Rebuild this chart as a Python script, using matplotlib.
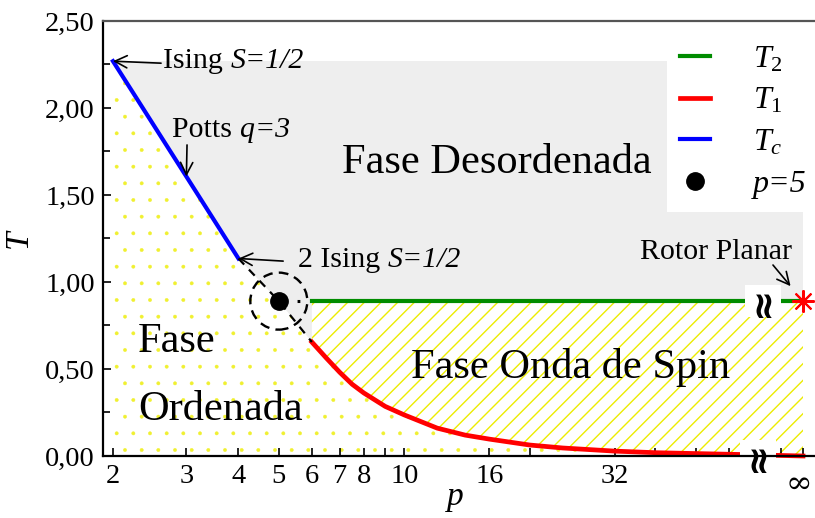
import numpy as np
import matplotlib
matplotlib.use("Agg")
import matplotlib.pyplot as plt
import matplotlib.transforms as mtransforms
from matplotlib.patches import Circle

plt.rcParams["font.family"] = ["Liberation Serif", "DejaVu Serif"]
plt.rcParams["mathtext.fontset"] = "custom"
plt.rcParams["mathtext.rm"] = "Liberation Serif"
plt.rcParams["mathtext.it"] = "Liberation Serif:italic"
plt.rcParams["hatch.linewidth"] = 1.0
plt.rcParams["lines.scale_dashes"] = False

# ---- data (p, T) ----
P_TC = [2, 3, 4]
T_TC = [2.269, 1.606, 1.135]

P_LINK = [4, 5, 6]
T_LINK = [1.135, 0.89, 0.655]

P_T1 = [6, 6.5, 7, 7.5, 8, 9, 10, 12, 14, 16, 20, 24, 32, 40, 50, 60, 66, np.inf]
T_T1 = [0.655, 0.563, 0.481, 0.412, 0.362, 0.285, 0.236, 0.16, 0.12, 0.097,
        0.063, 0.046, 0.028, 0.019, 0.014, 0.010, 0.008, 0.0]

P_T2 = [6, np.inf]
T_T2 = [0.89, 0.89]

P_MULTI, T_MULTI = 5, 0.89
T_ISING = 2.269

X_TICKS = [2, 3, 4, 5, 6, 7, 8, 9, 10, 16, 20, 32, 40, 50, 60, 80, np.inf]
X_LABELS = ["2", "3", "4", "5", "6", "7", "8", "", "10", "16", "", "32",
            "", "", "", "", ""]
INF_LABEL = "\u221e"
Y_TICKS = [0.0, 0.5, 1.0, 1.5, 2.0, 2.5]

# layout constants
P_INF = 90.5         # where "infinity" sits on the log axis
P_BREAK_AXIS = 70.5
P_BREAK_T2 = 72.5
YELLOW = "#ecec00"


def xpos(p):
    p = np.asarray(p, dtype=float)
    return np.where(np.isinf(p), P_INF, p)


fig = plt.figure(figsize=(8.15, 5.18), dpi=100)
ax = fig.add_axes([0.1264, 0.1197, 0.8736, 0.8398])
ax.set_xscale("log")
ax.set_xlim(1.893, 96.7)
ax.set_ylim(0, 2.5)

# disordered phase (grey)
ax.fill_between(xpos([2, np.inf]), 0, T_ISING, color="#eeeeee", lw=0, zorder=0)

# ordered phase (yellow dots)
p_low = np.concatenate([xpos(P_TC), xpos(P_LINK[1:]), xpos(P_T1[1:])])
t_low = np.concatenate([T_TC, T_LINK[1:], T_T1[1:]])
with plt.rc_context({"hatch.linewidth": 0.3}):
    dots = ax.fill_between(p_low, 0, t_low, facecolor="white", edgecolor="#f0f030",
                           hatch=".", lw=0, zorder=1)
if hasattr(dots, "set_hatch_linewidth"):
    dots.set_hatch_linewidth(0.3)

# spin wave phase (yellow hatch)
ax.fill_between(xpos(P_T1), T_T1, T_T2[0], facecolor="white", edgecolor=YELLOW,
                hatch="//", lw=0, zorder=1)

# transition lines
l2, = ax.plot(xpos(P_T2), T_T2, color="#008c00", lw=3, zorder=3, label=r"$T_\mathit{2}$")
l1, = ax.plot(xpos(P_T1), T_T1, color="red", lw=3.4, zorder=3, clip_on=False,
              label=r"$T_\mathit{1}$")
lc, = ax.plot(P_TC, T_TC, color="blue", lw=3, zorder=3, label=r"$T_c$")
ax.plot(P_LINK, T_LINK, color="black", lw=1.6, ls=(0, (6, 5)), zorder=3)
ax.plot([P_MULTI, P_LINK[-1]], [T_MULTI, T_T2[0]], color="black", lw=2.2,
        ls=(0, (0.01, 13, 2, 60)), zorder=3)
lp, = ax.plot(P_MULTI, T_MULTI, "o", color="black", ms=12.5, zorder=4, label="p=5")

# dashed circle around the multicritical point
trans = fig.dpi_scale_trans + mtransforms.ScaledTranslation(P_MULTI, T_MULTI, ax.transData)
ax.add_patch(Circle((0, 0), 0.285, transform=trans, fill=False, color="black",
                    lw=1.7, ls=(0, (7, 4.5)), zorder=4))

# planar rotor limit
ax.plot(xpos([np.inf]), [T_T2[0]], marker=(8, 2, 0), color="red", ms=16, mew=1.5,
        zorder=5, clip_on=False)

# axis breaks
for pb, tb in [(P_BREAK_AXIS, 0.0), (P_BREAK_T2, T_T2[0])]:
    ax.text(pb, tb, "\u2248", family="DejaVu Sans", fontsize=27, fontweight="bold",
            rotation=90, ha="center", va="center", zorder=6, clip_on=False,
            bbox=dict(fc="white", ec="none", pad=0.0))

# annotations
arrow = dict(arrowstyle="->", color="black", lw=1.2, mutation_scale=22, shrinkA=0, shrinkB=0)
ann_fs = 21.5


def label_parts(x, y, plain, italic):
    t = ax.text(x, y, plain, transform=ax.transAxes, fontsize=ann_fs, va="baseline", zorder=6)
    ax.annotate(italic, xy=(1, 0), xycoords=t, fontsize=ann_fs, style="italic",
                va="bottom", zorder=6)


ax.annotate("", xy=(P_TC[0], T_TC[0]), xytext=(0.0815, 0.903),
            textcoords="axes fraction", arrowprops=arrow, zorder=6)
label_parts(0.084, 0.892, "Ising ", "S=1/2")

ax.annotate("", xy=(P_TC[1], T_TC[1]), xytext=(0.118, 0.715),
            textcoords="axes fraction", arrowprops=arrow, zorder=6)
label_parts(0.097, 0.733, "Potts ", "q=3")

ax.annotate("", xy=(P_TC[2], T_TC[2]), xytext=(0.253, 0.448),
            textcoords="axes fraction", arrowprops=arrow, zorder=6)
label_parts(0.274, 0.434, "2 Ising ", "S=1/2")

ax.annotate("", xy=(P_INF, T_T2[0]), xytext=(0.941, 0.439),
            textcoords="axes fraction",
            arrowprops=dict(arrow, shrinkB=14), zorder=6)
ax.text(0.754, 0.453, "Rotor Planar", transform=ax.transAxes, fontsize=ann_fs,
        va="baseline", zorder=6)

# phase labels
phase_fs = 30.5
ax.text(0.553, 0.651, "Fase Desordenada", transform=ax.transAxes, fontsize=phase_fs,
        ha="center", va="baseline", zorder=6)
ax.text(0.657, 0.179, "Fase Onda de Spin", transform=ax.transAxes, fontsize=phase_fs,
        ha="center", va="baseline", zorder=6)
ax.text(0.049, 0.239, "Fase", transform=ax.transAxes, fontsize=phase_fs,
        va="baseline", zorder=6)
ax.text(0.049, 0.083, "Ordenada", transform=ax.transAxes, fontsize=phase_fs,
        va="baseline", zorder=6)

# legend
leg = ax.legend(handles=[l2, l1, lc, lp], loc="upper left", bbox_to_anchor=(0.792, 0.975),
                frameon=True, facecolor="white", edgecolor="none", framealpha=1,
                fancybox=False, prop=dict(size=23, style="italic"),
                handlelength=0.95, handletextpad=1.35, labelspacing=0.38,
                borderpad=0.4, borderaxespad=0)
leg.set_zorder(7)

# axes styling
ax.set_xticks(xpos(X_TICKS))
ax.set_xticklabels(X_LABELS)
ax.xaxis.set_minor_locator(matplotlib.ticker.NullLocator())
ax.set_yticks(Y_TICKS)
ax.set_yticklabels([f"{v:.2f}".replace(".", ",") for v in Y_TICKS])
ax.set_yticks(np.arange(0.25, 2.5, 0.5), minor=True)
ax.tick_params(axis="both", which="major", direction="in", length=6, width=1.2,
               labelsize=20.5, pad=6)
ax.tick_params(axis="y", which="minor", direction="in", length=5, width=1.2)

# infinity label, nudged left so it stays inside the canvas
ax.annotate(INF_LABEL, xy=(P_INF, 0), xycoords=("data", "axes fraction"),
            xytext=(-3, -9), textcoords="offset points", fontsize=23,
            family="DejaVu Serif", ha="center", va="top", annotation_clip=False)

ax.spines["right"].set_visible(False)
ax.spines["top"].set_color("#555555")
for s in ax.spines.values():
    s.set_linewidth(1.6)
    s.set_zorder(8)

fig.text(455 / 815, 1 - 505 / 518, "p", fontsize=24, style="italic",
         ha="center", va="baseline")
ax.set_ylabel("T", fontsize=24, style="italic", labelpad=8)

fig.savefig("out.png", dpi=100)
